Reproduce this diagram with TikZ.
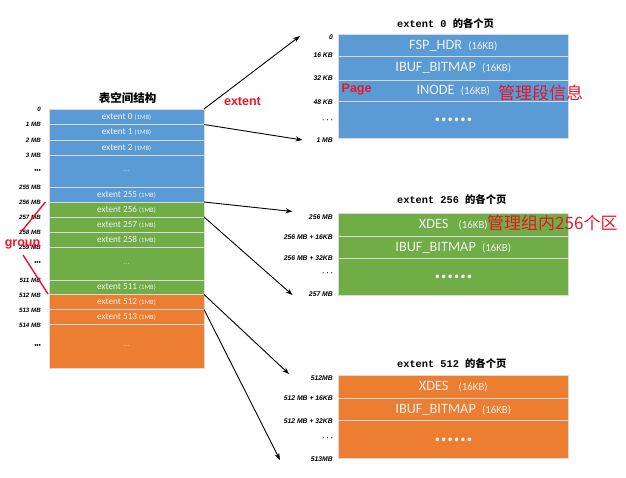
\documentclass[tikz,border=0pt]{standalone}
\usepackage{fontspec}
\setmainfont{Carlito}
\newfontfamily\cjkfont{Noto Sans CJK SC}
\newfontfamily\lblfont{Liberation Sans}
\newfontfamily\ttlfont{Liberation Mono}
\usetikzlibrary{arrows.meta}

\definecolor{extblue}{RGB}{91,155,213}
\definecolor{extgreen}{RGB}{112,173,71}
\definecolor{extorange}{RGB}{237,125,49}
\definecolor{notered}{RGB}{232,22,40}
\definecolor{sepgray}{RGB}{218,218,218}
\definecolor{rowtext}{RGB}{240,240,240}

\newcommand{\mbtag}{{\fontsize{6.6}{8}\selectfont(1MB)}}
\newcommand{\kbtag}{{\fontsize{10.8}{12}\selectfont(16KB)}}
\newcommand{\pagedots}{{\cjkfont\bfseries\fontsize{17}{18}\selectfont ……}}

\tikzset{
  extrow/.style={draw=sepgray, line width=0.8pt, anchor=north west, inner sep=0pt, outer sep=0pt,
    minimum width=155pt, text=rowtext, font=\fontsize{9.2}{10}\selectfont},
  pagerow/.style={draw=sepgray, line width=0.8pt, anchor=north west, inner sep=0pt, outer sep=0pt,
    minimum width=229.5pt, text=rowtext, font=\fontsize{14.3}{16}\selectfont},
  addr/.style={anchor=east, inner sep=0pt, font=\lblfont\bfseries\itshape\fontsize{6.2}{7}\selectfont},
  paddr/.style={anchor=east, inner sep=0pt, font=\lblfont\bfseries\itshape\fontsize{6.8}{8}\selectfont},
  pagetitle/.style={anchor=west, inner sep=0pt, font=\fontsize{10.3}{12}\selectfont},
  note/.style={text=notered, inner sep=0pt, font=\lblfont\bfseries\fontsize{12.5}{14}\selectfont},
  cjknote/.style={text=notered, anchor=west, inner sep=0pt, font=\cjkfont\fontsize{17}{19}\selectfont},
  jump/.style={-{Stealth[length=7pt,width=5pt]}, line width=0.9pt},
  grpline/.style={notered, line width=1.4pt}
}

\begin{document}
\begin{tikzpicture}[x=1pt, y=-1pt]
  \useasboundingbox (0,0) rectangle (626,477);

  % Table space
  \node[font=\cjkfont\bfseries\fontsize{11.5}{13}\selectfont] (tstitle) at (127.5,98) {表空间结构};

  \node[extrow, fill=extblue, minimum height=15.5pt] (e0) at (49,109) {extent 0 \mbtag};
  \node[extrow, fill=extblue, minimum height=15.5pt] (e1) at (49,124.5) {extent 1 \mbtag};
  \node[extrow, fill=extblue, minimum height=15.5pt] (e2) at (49,140) {extent 2 \mbtag};
  \node[extrow, fill=extblue, minimum height=31.5pt, text opacity=0.5] (eb) at (49,155.5) {...};
  \node[extrow, fill=extblue, minimum height=15pt] (e255) at (49,187) {extent 255 \mbtag};

  \node[extrow, fill=extgreen, minimum height=15pt] (e256) at (49,202) {extent 256 \mbtag};
  \node[extrow, fill=extgreen, minimum height=15pt] (e257) at (49,217) {extent 257 \mbtag};
  \node[extrow, fill=extgreen, minimum height=15.5pt] (e258) at (49,232) {extent 258 \mbtag};
  \node[extrow, fill=extgreen, minimum height=32.5pt, text opacity=0.5] (eg) at (49,247.5) {...};
  \node[extrow, fill=extgreen, minimum height=14.5pt] (e511) at (49,280) {extent 511 \mbtag};

  \node[extrow, fill=extorange, minimum height=15pt] (e512) at (49,294.5) {extent 512 \mbtag};
  \node[extrow, fill=extorange, minimum height=15pt] (e513) at (49,309.5) {extent 513 \mbtag};
  \node[extrow, fill=extorange, minimum height=44pt, text opacity=0.5] (eo) at (49,324.5) {...};

  % Offsets of the table space
  \foreach \y/\t [count=\i] in {109/0, 124.5/1 MB, 140/2 MB, 155.5/3 MB, 171/•••, 187/255 MB,
      202/256 MB, 217/257 MB, 232/258 MB, 247.5/259 MB, 263.5/•••, 280/511 MB,
      295/512 MB, 310/513 MB, 325/514 MB, 346/•••}
    \node[addr] (la\i) at (41,\y) {\t};

  % Pages of extent 0
  \node[pagetitle] (title0) at (397,24) {{\ttlfont\bfseries extent 0 }{\cjkfont\bfseries 的各个页}};
  \node[pagerow, fill=extblue, minimum height=22pt] (fsp) at (338.5,34.5) {FSP\_HDR\hspace{3pt} \kbtag};
  \node[pagerow, fill=extblue, minimum height=23.5pt] (ibuf0) at (338.5,56.5) {IBUF\_BITMAP\hspace{3pt} \kbtag};
  \node[pagerow, fill=extblue, minimum height=21pt] (inode) at (338.5,80) {INODE\hspace{3pt} \kbtag};
  \node[pagerow, fill=extblue, minimum height=37.5pt] (dots0) at (338.5,101) {\pagedots};
  \foreach \y/\t [count=\i] in {37.5/0, 55/16 KB, 78/32 KB, 102.5/48 KB, 121.5/· · ·, 140.5/1 MB}
    \node[paddr] (pa\i) at (333,\y) {\t};

  % Pages of extent 256
  \node[pagetitle] (title1) at (397,200) {{\ttlfont\bfseries extent 256 }{\cjkfont\bfseries 的各个页}};
  \node[pagerow, fill=extgreen, minimum height=23pt] (xdes1) at (338.5,213.5) {XDES\hspace{7pt} \kbtag};
  \node[pagerow, fill=extgreen, minimum height=22pt] (ibuf1) at (338.5,236.5) {IBUF\_BITMAP\hspace{3pt} \kbtag};
  \node[pagerow, fill=extgreen, minimum height=36.5pt] (dots1) at (338.5,258.5) {\pagedots};
  \foreach \y/\t [count=\i] in {217.5/256 MB, 237/256 MB + 16KB, 258.5/256 MB + 32KB, 274/· · ·, 294/257 MB}
    \node[paddr] (pb\i) at (333,\y) {\t};

  % Pages of extent 512
  \node[pagetitle] (title2) at (397,363.5) {{\ttlfont\bfseries extent 512 }{\cjkfont\bfseries 的各个页}};
  \node[pagerow, fill=extorange, minimum height=23pt] (xdes2) at (338.5,375.5) {XDES\hspace{7pt} \kbtag};
  \node[pagerow, fill=extorange, minimum height=22pt] (ibuf2) at (338.5,398.5) {IBUF\_BITMAP\hspace{3pt} \kbtag};
  \node[pagerow, fill=extorange, minimum height=38pt] (dots2) at (338.5,420.5) {\pagedots};
  \foreach \y/\t [count=\i] in {378/512MB, 398.5/512 MB + 16KB, 421.5/512 MB + 32KB, 439/· · ·, 459/513MB}
    \node[paddr] (pc\i) at (333,\y) {\t};

  % Arrows to the pages
  \coordinate (t0a) at (300,36);
  \coordinate (t0b) at (302.5,140);
  \coordinate (t1a) at (292.5,211.5);
  \coordinate (t1b) at (292.5,295);
  \coordinate (t2a) at (289,374);
  \coordinate (t2b) at (280,460);
  \draw[jump] (e0.north east) -- (t0a);
  \draw[jump] (e1.north east) -- (t0b);
  \draw[jump] (e256.north east) -- (t1a);
  \draw[jump] (e257.north east) -- (t1b);
  \draw[jump] (e512.north east) -- (t2a);
  \draw[jump] (e513.north east) -- (t2b);

  % Notes
  \node[note] (extlbl) at (242.5,101) {extent};
  \node[note, anchor=west] (pagelbl) at (341.5,90) {Page};
  \node[cjknote] (seginfo) at (498,93) {管理段信息};
  \node[cjknote] (grpinfo) at (487,223) {管理组内256个区};

  % Group
  \draw[grpline] (45.5,202) -- (21,232);
  \draw[grpline] (23,255) -- (48,294);
  \node[note] (grplbl) at (22.5,244) {group};
\end{tikzpicture}
\end{document}
